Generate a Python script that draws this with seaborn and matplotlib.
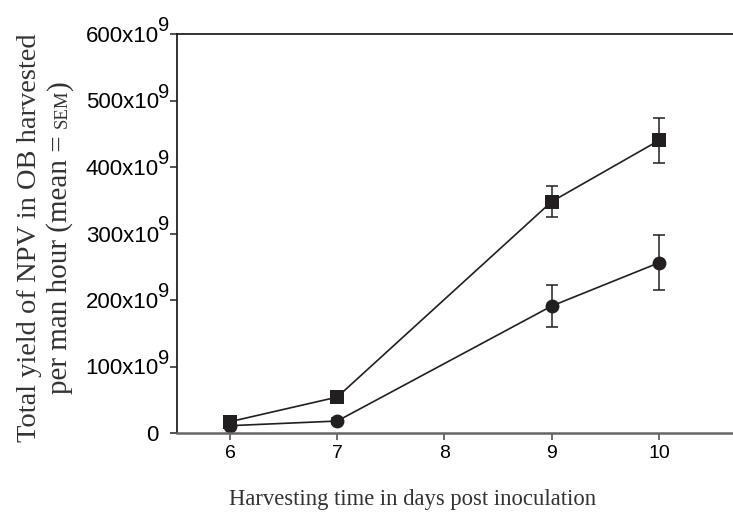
import matplotlib
matplotlib.use("Agg")
import matplotlib.pyplot as plt
import matplotlib.transforms as mtransforms
import seaborn as sns
import pandas as pd
import numpy as np

# ---- data (values in units of 10^9) ----
days = [6, 7, 9, 10]
square_mean = [17, 54, 348, 440]
square_sem = [5, 5, 23, 34]
circle_mean = [11, 18, 191, 256]
circle_sem = [3, 4, 31, 41]
y_ticks = [0, 100, 200, 300, 400, 500, 600]
x_ticks = [6, 7, 8, 9, 10]

sns.set_theme(style="ticks")
plt.rcParams["font.family"] = ["Liberation Sans", "DejaVu Sans"]

W, H = 733, 516
fig = plt.figure(figsize=(W / 100, H / 100), dpi=100)
ax_left, ax_bottom, ax_top = 177, 433, 34
ax = fig.add_axes([ax_left / W, 1 - ax_bottom / H, 1 - ax_left / W, (ax_bottom - ax_top) / H])

df = pd.DataFrame({
    "day": days * 2,
    "value": square_mean + circle_mean,
    "sem": square_sem + circle_sem,
    "group": ["square"] * len(days) + ["circle"] * len(days),
})

ink = "#231f20"
sns.lineplot(data=df, x="day", y="value", style="group", markers={"square": "s", "circle": "o"},
             dashes=False, color=ink, linewidth=1.2, markersize=10, markeredgewidth=0,
             legend=False, ax=ax, errorbar=None)
for grp in ["square", "circle"]:
    sub = df[df.group == grp]
    ax.errorbar(sub["day"], sub["value"], yerr=sub["sem"], fmt="none", ecolor=ink,
                elinewidth=1.1, capsize=4.5, capthick=1.1, zorder=1)

ax.set_xlim(5.506, 10.69)
ax.set_ylim(0, 600)
ax.set_xticks(x_ticks)
ax.set_xticklabels([str(t) for t in x_ticks], fontsize=14)
ax.set_yticks(y_ticks)
ax.set_yticklabels(["0" if t == 0 else f"{t}x10" for t in y_ticks], fontsize=16)
ax.tick_params(axis="y", length=5, width=1.2, color="#333333", pad=8, labelcolor="black")
ax.tick_params(axis="x", length=5, width=1.2, color="#555555", pad=4, labelcolor="black")

# superscript exponents of the y tick labels
sup_tr = mtransforms.blended_transform_factory(ax.transAxes, ax.transData) + \
    mtransforms.ScaledTranslation(-19 / 100, 3 / 100, fig.dpi_scale_trans)
for t in y_ticks:
    if t != 0:
        ax.text(0, t, "9", transform=sup_tr, ha="left", va="baseline", fontsize=14.5,
                color="black", clip_on=False)

for s in ["left", "top"]:
    ax.spines[s].set_color("#222222")
    ax.spines[s].set_linewidth(1.3)
ax.spines["bottom"].set_color("#666666")
ax.spines["bottom"].set_linewidth(1.8)
ax.spines["right"].set_visible(False)
ax.set_xlabel("")
ax.set_ylabel("")

serif = ["Liberation Serif", "DejaVu Serif"]
txtcol = "#333333"
fig.text(413 / W, 1 - 500 / H, "Harvesting time in days post inoculation", ha="center", va="center",
         fontsize=16.3, family=serif, color=txtcol)

# y label, line 1
fig.text(36 / W, 1 - 238 / H, "Total yield of NPV in OB harvested", rotation=90,
         rotation_mode="anchor", ha="center", va="baseline", fontsize=20.5, family=serif, color=txtcol)

# y label, line 2 built from pieces (small-caps SEM)
pieces = [("per man hour (mean = ", 21), ("SEM", 13.5), (")", 21)]
fig.canvas.draw()
renderer = fig.canvas.get_renderer()
objs = []
for s, fs in pieces:
    t = fig.text(0, 0, s, rotation=90, rotation_mode="anchor", ha="left", va="baseline",
                 fontsize=fs, family=serif, color=txtcol)
    objs.append(t)
lengths = [t.get_window_extent(renderer).height for t in objs]
total = sum(lengths)
center_y = H - 237
start = center_y - total / 2
for t, L in zip(objs, lengths):
    t.set_position((67 / W, start / H))
    start += L

fig.savefig("out.png", dpi=100)
